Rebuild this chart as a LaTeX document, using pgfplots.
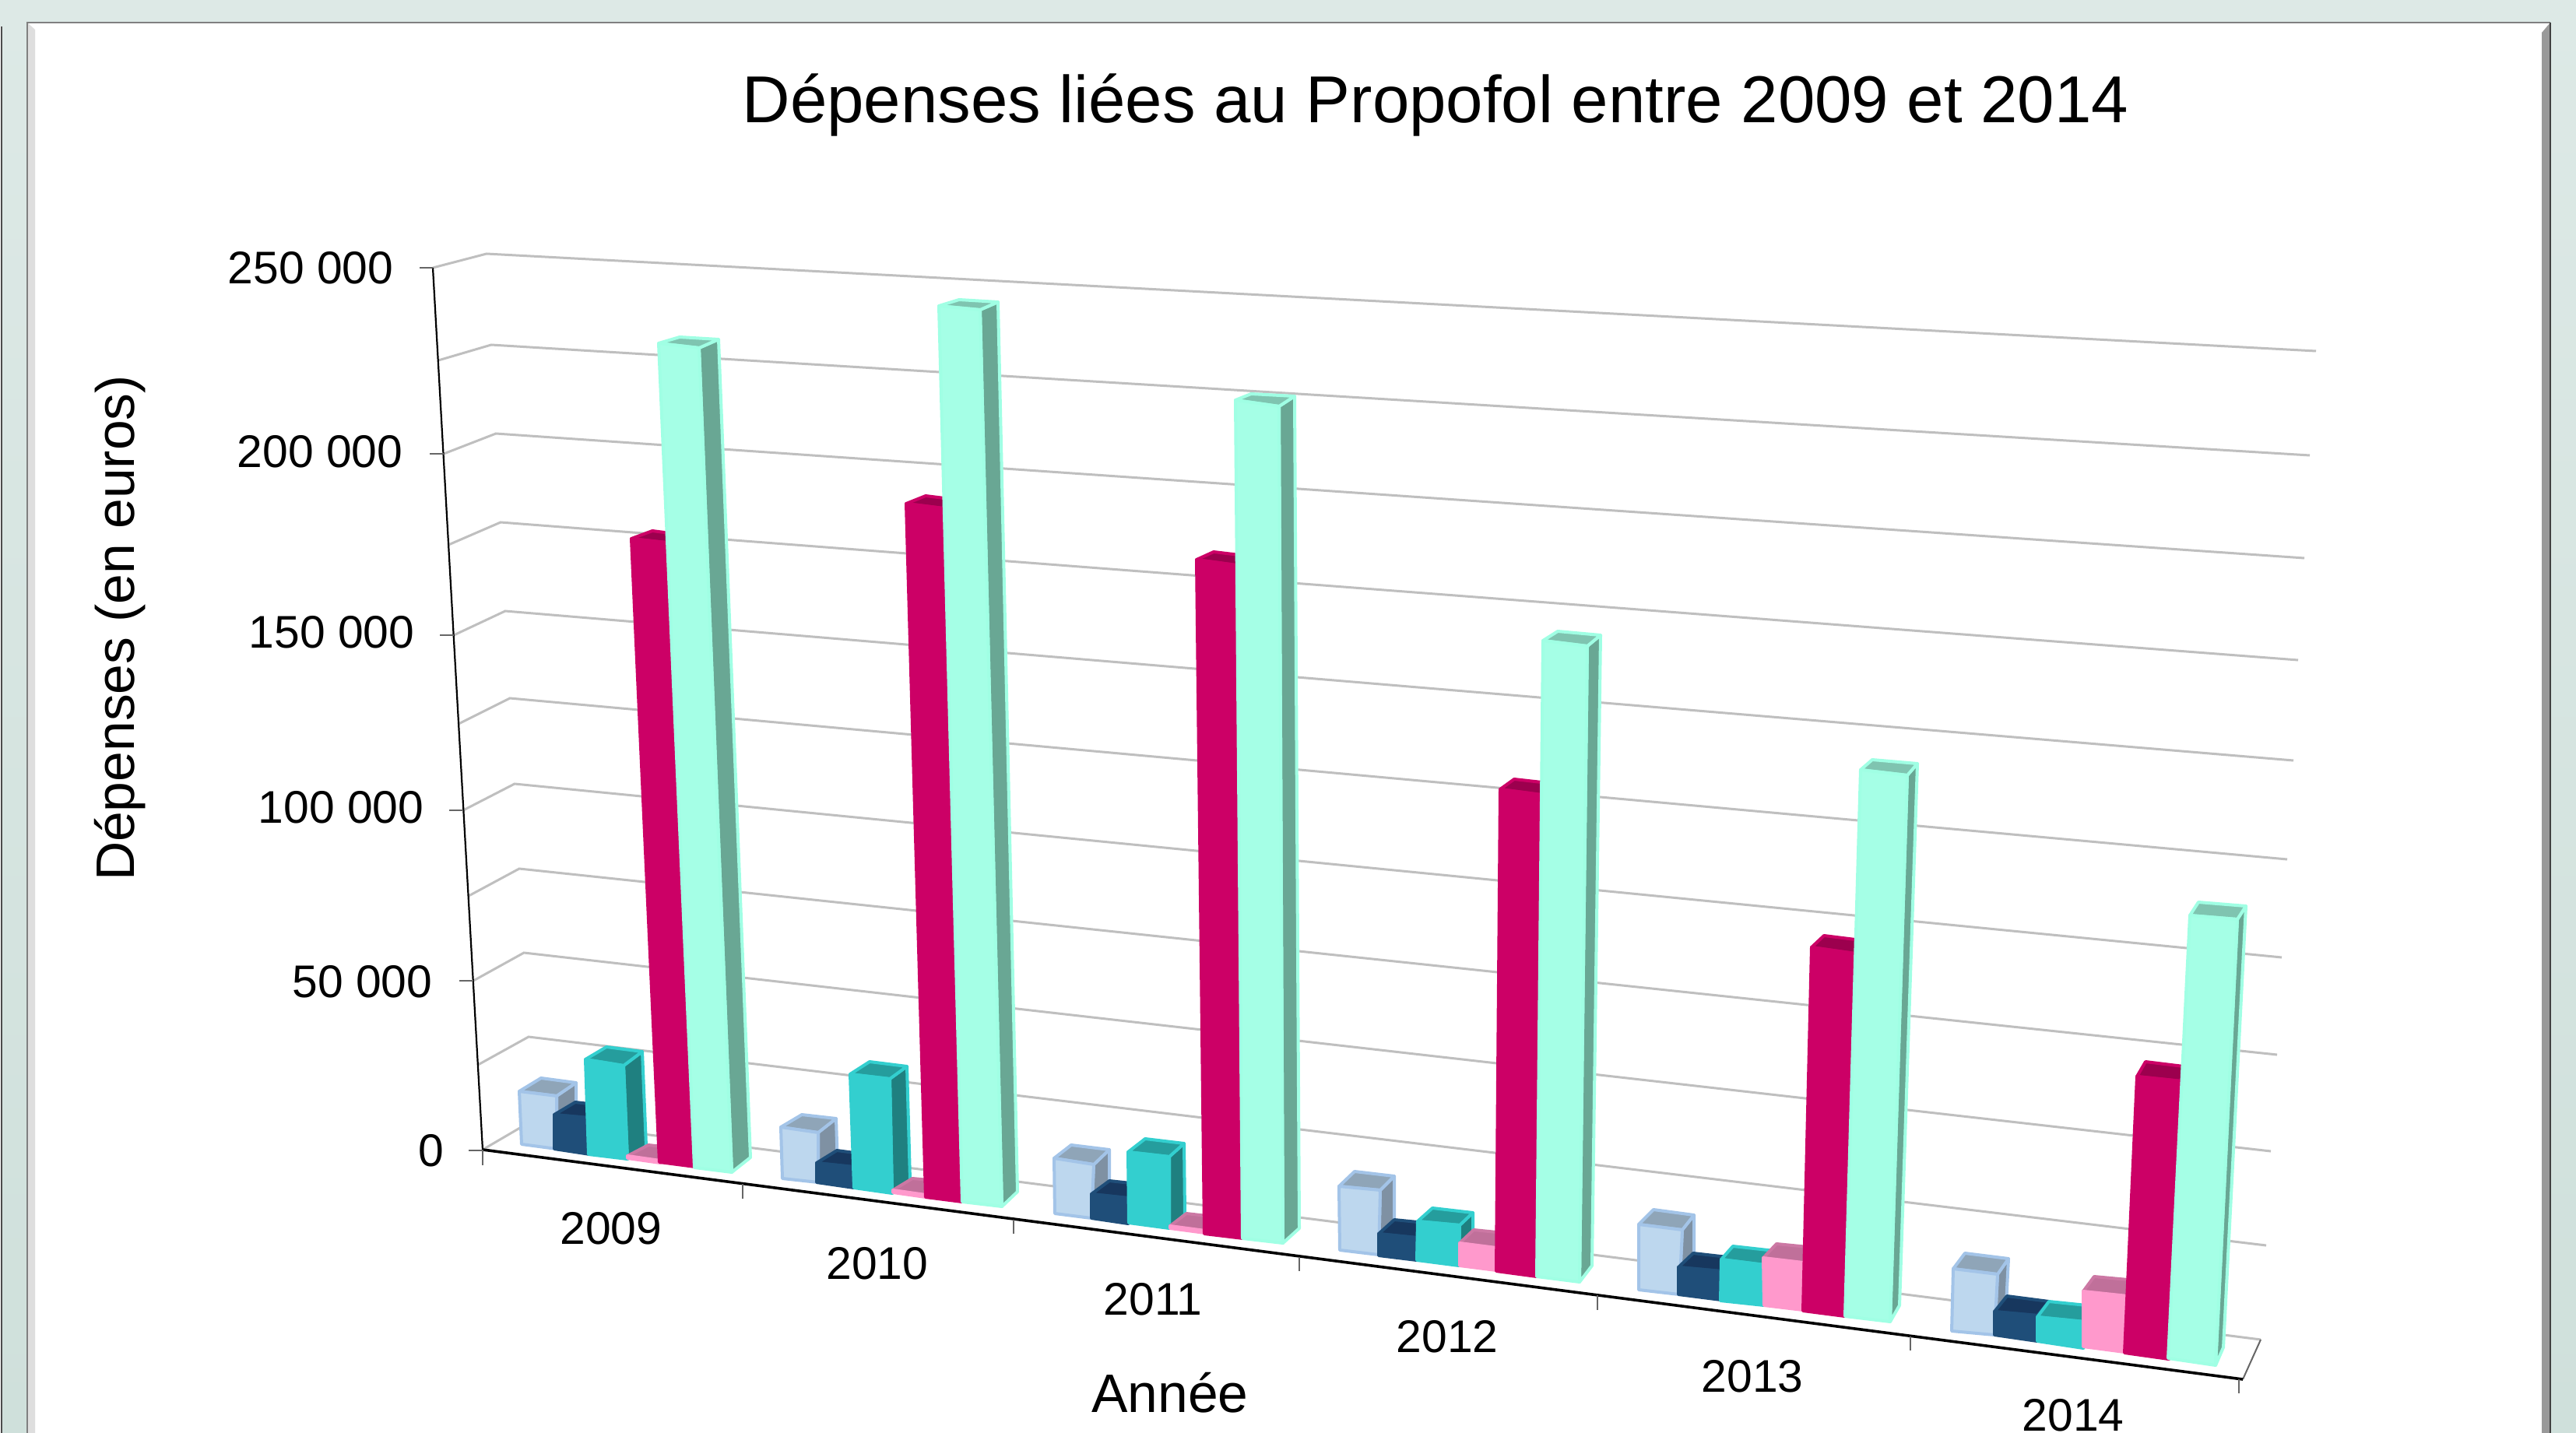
\documentclass[border=0pt]{standalone}
\usepackage{pgfplots}
\pgfplotsset{compat=1.18}
\usepackage{fontspec}
\setmainfont{Liberation Sans}
% reference pixel coordinates; 1 px = 0.25 pt
\definecolor{bgT}{HTML}{DDE9E6}\definecolor{bgB}{HTML}{CFE0DB}
\definecolor{gridc}{HTML}{BFBFBF}
\definecolor{lightF}{HTML}{BDD7EE}\definecolor{lightB}{HTML}{A3C4E8}\definecolor{lightE}{HTML}{A3C4E8}\definecolor{lightT}{HTML}{8FA5B8}\definecolor{lightS}{HTML}{7F91A3}
\definecolor{darkF}{HTML}{1F4E79}\definecolor{darkB}{HTML}{1F4E79}\definecolor{darkE}{HTML}{1F4E79}\definecolor{darkT}{HTML}{17375E}\definecolor{darkS}{HTML}{17375E}
\definecolor{tealF}{HTML}{33CFCF}\definecolor{tealB}{HTML}{33CFCF}\definecolor{tealE}{HTML}{33CFCF}\definecolor{tealT}{HTML}{259D9D}\definecolor{tealS}{HTML}{1F8080}
\definecolor{pinkF}{HTML}{FF99CC}\definecolor{pinkB}{HTML}{FF99CC}\definecolor{pinkE}{HTML}{CC78A4}\definecolor{pinkT}{HTML}{C0709A}\definecolor{pinkS}{HTML}{C0709A}
\definecolor{crimF}{HTML}{CC0066}\definecolor{crimB}{HTML}{CC0066}\definecolor{crimE}{HTML}{CC0066}\definecolor{crimT}{HTML}{9C004E}\definecolor{crimS}{HTML}{9C004E}
\definecolor{mintF}{HTML}{A5FFE6}\definecolor{mintB}{HTML}{A0FFE4}\definecolor{mintE}{HTML}{A0FFE4}\definecolor{mintT}{HTML}{7FC4B0}\definecolor{mintS}{HTML}{69A794}
% #1 series, then front-bottom-left, front-bottom-right, front-top-right, front-top-left, back-top-left, back-top-right, back-bottom-right
\newcommand{\onebar}[8]{%
 \addplot[fill=#1S,draw=#1B,line width=1pt,line join=round] coordinates {#3 #4 #7 #8} --cycle;
 \addplot[fill=#1T,draw=#1E,line width=1pt,line join=round] coordinates {#5 #4 #7 #6} --cycle;
 \addplot[fill=#1F,draw=#1B,line width=1pt,line join=round] coordinates {#2 #3 #4 #5} --cycle;
}
\newcommand{\gline}[3]{\addplot[gridc,line width=0.75pt] coordinates {#1 #2 #3};}
\newcommand{\lab}[4][base]{\node[anchor=#1,inner sep=0pt,font=\fontsize{14.7}{16}\selectfont] at (axis cs:#2,#3) {#4};}
\begin{document}
\begin{tikzpicture}
\useasboundingbox (0,0) rectangle (827.25pt,460.25pt);
\begin{axis}[at={(0,0)},anchor=south west,scale only axis,width=827.25pt,height=460.25pt,
  hide axis,xmin=0,xmax=3309,ymin=0,ymax=1841,y dir=reverse,clip=true]
% frame
\fill[top color=bgT,bottom color=bgB] (axis cs:0,0) rectangle (axis cs:3309,1841);
\addplot[fill=white,draw=none] coordinates {(0,34) (3,34) (3,1841) (0,1841)} --cycle;
\addplot[draw=black!70,line width=0.5pt] coordinates {(2,34) (2,1841)};
\addplot[fill=white,draw=none] coordinates {(35,29) (3276,29) (3276,1841) (35,1841)} --cycle;
\addplot[fill=black!13,draw=none] coordinates {(35,29) (45,38) (45,1841) (35,1841)} --cycle;
\addplot[fill=black!40,draw=none] coordinates {(3276,29) (3265,42) (3265,1841) (3276,1841)} --cycle;
\addplot[draw=black!50,line width=0.5pt] coordinates {(35,1841) (35,29) (3276,29)};
\addplot[draw=black!75,line width=0.5pt] coordinates {(3276,29) (3276,1841)};
% gridlines: every 25 000 euros, 250 000 first
\gline{(556,344)}{(625,326)}{(2975,451)}
\gline{(563,463)}{(631,443)}{(2967,585)}
\gline{(570,583)}{(637,557)}{(2960,717)}
\gline{(576,700)}{(643,671)}{(2952,848)}
\gline{(583,816)}{(649,785)}{(2946,977)}
\gline{(589,930)}{(655,897)}{(2938,1104)}
\gline{(595,1041)}{(661,1007)}{(2931,1230)}
\gline{(602,1151)}{(667,1116)}{(2925,1355)}
\gline{(608,1260)}{(673,1224)}{(2917,1479)}
\gline{(614,1368)}{(679,1332)}{(2911,1600)}
\gline{(620,1477)}{(685,1439)}{(2904,1721)}
\addplot[black!60,line width=0.5pt] coordinates {(2904,1721) (2881,1772)};
% axes
\addplot[black,line width=0.55pt] coordinates {(556,344) (620,1477)};
\addplot[black,line width=0.9pt] coordinates {(620,1477) (2881,1772)};
\addplot[black!60,line width=0.5pt] coordinates {(539,344) (556,344)};
\addplot[black!60,line width=0.5pt] coordinates {(552,583) (570,583)};
\addplot[black!60,line width=0.5pt] coordinates {(565,816) (583,816)};
\addplot[black!60,line width=0.5pt] coordinates {(577,1041) (595,1041)};
\addplot[black!60,line width=0.5pt] coordinates {(590,1260) (608,1260)};
\addplot[black!60,line width=0.5pt] coordinates {(602,1478) (620,1478)};
\addplot[black!60,line width=0.5pt] coordinates {(620,1477) (620,1497)};
\addplot[black!60,line width=0.5pt] coordinates {(954,1521) (954,1540)};
\addplot[black!60,line width=0.5pt] coordinates {(1302,1567) (1302,1585)};
\addplot[black!60,line width=0.5pt] coordinates {(1669,1615) (1669,1633)};
\addplot[black!60,line width=0.5pt] coordinates {(2052,1664) (2052,1683)};
\addplot[black!60,line width=0.5pt] coordinates {(2454,1717) (2454,1735)};
\addplot[black!60,line width=0.5pt] coordinates {(2876,1772) (2876,1790)};
% 2009
\onebar{light}{(670,1470)}{(715,1476)}{(715,1408)}{(667,1402)}{(695,1385)}{(740,1391)}{(740,1456)}
\onebar{dark}{(712,1476)}{(758,1483)}{(756,1436)}{(712,1432)}{(739,1416)}{(782,1421)}{(782,1463)}
\onebar{teal}{(756,1483)}{(806,1489)}{(801,1369)}{(752,1361)}{(779,1345)}{(825,1351)}{(830,1472)}
\onebar{pink}{(806,1488)}{(848,1494)}{(848,1491)}{(806,1485)}{(833,1471)}{(876,1476)}{(876,1480)}
\onebar{crim}{(847,1493)}{(893,1499)}{(856,697)}{(811,692)}{(838,682)}{(884,688)}{(911,1480)}
\onebar{mint}{(892,1500)}{(940,1506)}{(898,447)}{(846,441)}{(873,433)}{(923,436)}{(964,1487)}
% 2010
\onebar{light}{(1005,1514)}{(1051,1519)}{(1051,1455)}{(1003,1448)}{(1030,1432)}{(1074,1437)}{(1076,1500)}
\onebar{dark}{(1049,1519)}{(1097,1526)}{(1096,1499)}{(1049,1494)}{(1075,1478)}{(1120,1484)}{(1120,1507)}
\onebar{teal}{(1097,1526)}{(1146,1533)}{(1143,1386)}{(1092,1380)}{(1117,1364)}{(1165,1370)}{(1169,1516)}
\onebar{pink}{(1147,1532)}{(1189,1538)}{(1189,1535)}{(1147,1529)}{(1172,1514)}{(1215,1518)}{(1215,1522)}
\onebar{crim}{(1189,1538)}{(1236,1544)}{(1212,653)}{(1164,647)}{(1189,637)}{(1237,643)}{(1254,1525)}
\onebar{mint}{(1236,1544)}{(1287,1550)}{(1259,398)}{(1206,393)}{(1232,385)}{(1282,388)}{(1307,1531)}
% 2011
\onebar{light}{(1355,1559)}{(1402,1565)}{(1405,1496)}{(1354,1488)}{(1376,1471)}{(1425,1477)}{(1425,1545)}
\onebar{dark}{(1402,1565)}{(1449,1572)}{(1449,1539)}{(1402,1534)}{(1425,1517)}{(1471,1522)}{(1471,1552)}
\onebar{teal}{(1450,1571)}{(1502,1578)}{(1502,1486)}{(1449,1480)}{(1471,1463)}{(1521,1469)}{(1522,1560)}
\onebar{pink}{(1503,1578)}{(1548,1584)}{(1548,1581)}{(1503,1575)}{(1524,1559)}{(1567,1564)}{(1567,1568)}
\onebar{crim}{(1547,1585)}{(1597,1591)}{(1588,726)}{(1537,719)}{(1559,709)}{(1609,715)}{(1615,1572)}
\onebar{mint}{(1596,1591)}{(1648,1597)}{(1643,522)}{(1587,514)}{(1607,506)}{(1663,509)}{(1669,1578)}
% 2012
\onebar{light}{(1721,1606)}{(1771,1612)}{(1773,1529)}{(1720,1524)}{(1740,1505)}{(1791,1511)}{(1791,1592)}
\onebar{dark}{(1771,1613)}{(1820,1619)}{(1820,1590)}{(1771,1585)}{(1791,1567)}{(1841,1572)}{(1841,1600)}
\onebar{teal}{(1820,1619)}{(1874,1626)}{(1875,1574)}{(1821,1569)}{(1840,1552)}{(1892,1558)}{(1892,1581)}
\onebar{pink}{(1875,1626)}{(1922,1632)}{(1922,1603)}{(1875,1597)}{(1893,1580)}{(1942,1585)}{(1942,1612)}
\onebar{crim}{(1922,1633)}{(1974,1640)}{(1980,1021)}{(1927,1014)}{(1945,1001)}{(1998,1007)}{(1992,1620)}
\onebar{mint}{(1974,1640)}{(2029,1647)}{(2039,830)}{(1982,823)}{(2001,811)}{(2056,816)}{(2045,1626)}
% 2013
\onebar{light}{(2105,1657)}{(2157,1663)}{(2161,1580)}{(2105,1573)}{(2124,1554)}{(2176,1561)}{(2176,1643)}
\onebar{dark}{(2156,1663)}{(2211,1670)}{(2211,1633)}{(2156,1628)}{(2175,1610)}{(2228,1616)}{(2228,1650)}
\onebar{teal}{(2210,1671)}{(2266,1677)}{(2267,1625)}{(2211,1618)}{(2226,1601)}{(2280,1607)}{(2280,1657)}
\onebar{pink}{(2266,1677)}{(2316,1683)}{(2316,1622)}{(2265,1616)}{(2282,1598)}{(2333,1603)}{(2333,1663)}
\onebar{crim}{(2316,1684)}{(2370,1691)}{(2383,1225)}{(2327,1217)}{(2343,1202)}{(2399,1209)}{(2386,1670)}
\onebar{mint}{(2370,1691)}{(2428,1698)}{(2450,996)}{(2390,989)}{(2405,976)}{(2463,981)}{(2440,1677)}
% 2014
\onebar{light}{(2507,1710)}{(2562,1715)}{(2566,1637)}{(2509,1630)}{(2524,1610)}{(2580,1617)}{(2576,1696)}
\onebar{dark}{(2562,1715)}{(2617,1723)}{(2617,1690)}{(2562,1685)}{(2578,1665)}{(2632,1672)}{(2632,1703)}
\onebar{teal}{(2617,1723)}{(2676,1732)}{(2678,1698)}{(2617,1692)}{(2632,1672)}{(2690,1678)}{(2690,1712)}
\onebar{pink}{(2676,1730)}{(2729,1737)}{(2733,1665)}{(2676,1659)}{(2690,1640)}{(2744,1645)}{(2744,1717)}
\onebar{crim}{(2729,1738)}{(2786,1746)}{(2803,1389)}{(2745,1383)}{(2756,1364)}{(2813,1371)}{(2800,1725)}
\onebar{mint}{(2785,1745)}{(2846,1754)}{(2874,1181)}{(2813,1176)}{(2824,1159)}{(2885,1164)}{(2856,1731)}
% text
\node[anchor=base,inner sep=0pt,font=\fontsize{21.3}{24}\selectfont] at (axis cs:1844,158) {Dépenses liées au Propofol entre 2009 et 2014};
\node[anchor=base,inner sep=0pt,font=\fontsize{17.4}{19}\selectfont] at (axis cs:1503,1814) {Année};
\node[rotate=90,inner sep=0pt,font=\fontsize{17.4}{19}\selectfont] at (axis cs:154,807) {Dépenses (en euros)};
\lab[base east]{506}{365}{250 000}
\lab[base east]{518}{600}{200 000}
\lab[base east]{533}{832}{150 000}
\lab[base east]{545}{1057}{100 000}
\lab[base east]{556}{1281}{50 000}
\lab[base east]{571}{1498}{0}
\lab{785}{1598}{2009}
\lab{1127}{1643}{2010}
\lab{1481}{1689}{2011}
\lab{1859}{1737}{2012}
\lab{2251}{1788}{2013}
\lab{2663}{1838}{2014}
\end{axis}
\end{tikzpicture}
\end{document}
